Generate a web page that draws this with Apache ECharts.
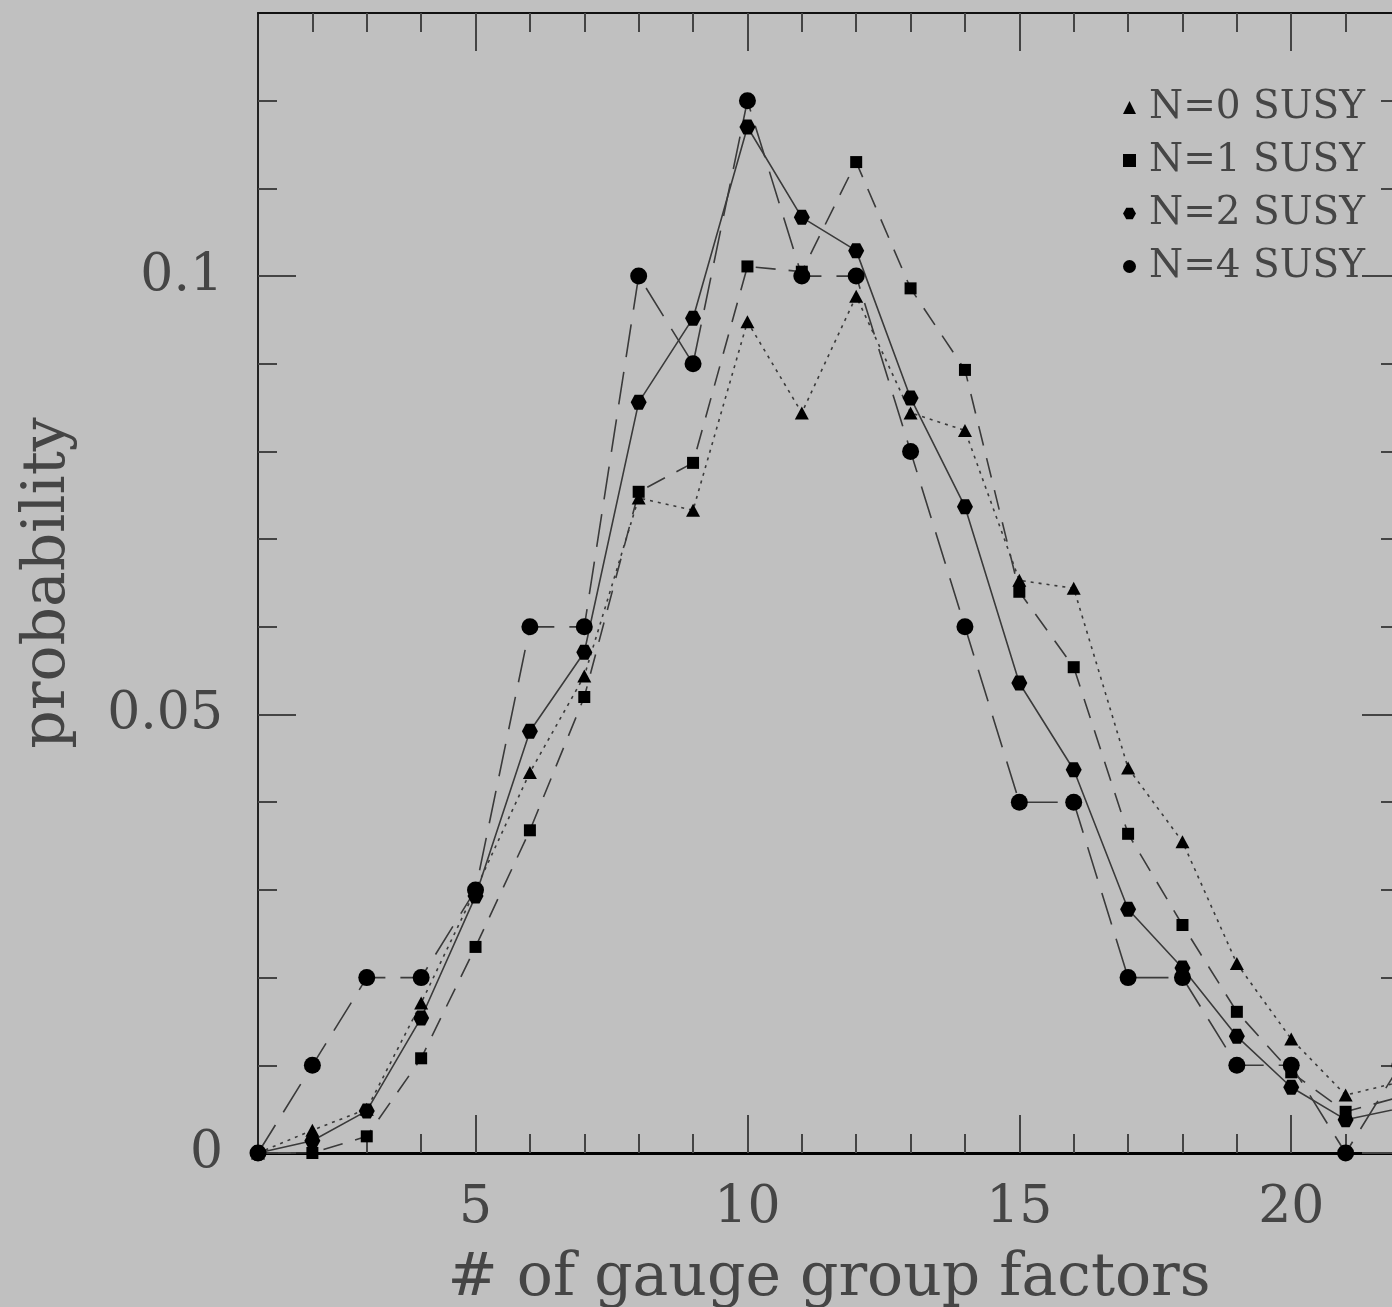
<!DOCTYPE html>
<html>
<head>
<meta charset="utf-8">
<script src="https://cdn.jsdelivr.net/npm/echarts@6/dist/echarts.min.js"></script>
<style>
  html, body { margin: 0; padding: 0; background: #c0c0c0; overflow: hidden; width: 1392px; height: 1307px; }
  #chart { width: 1392px; height: 1307px; display: block; overflow: hidden; }
</style>
</head>
<body>
<div id="chart"></div>
<script>
// ---- data ----
const xValues = [1, 2, 3, 4, 5, 6, 7, 8, 9, 10, 11, 12, 13, 14, 15, 16, 17, 18, 19, 20, 21, 22];
const seriesNames = ['N=0 SUSY', 'N=1 SUSY', 'N=2 SUSY', 'N=4 SUSY'];
const n0 = [0, 0.0026, 0.0050, 0.0171, 0.0300, 0.0434, 0.0544, 0.0747, 0.0733, 0.0948, 0.0844, 0.0977, 0.0844, 0.0824, 0.0653, 0.0644, 0.0439, 0.0355, 0.0216, 0.0130, 0.0066, 0.0081];
const n1 = [0, 0, 0.0019, 0.0108, 0.0235, 0.0368, 0.0520, 0.0754, 0.0787, 0.1011, 0.1005, 0.1130, 0.0986, 0.0893, 0.0640, 0.0554, 0.0364, 0.0260, 0.0161, 0.0092, 0.0047, 0.0064];
const n2 = [0, 0.0014, 0.0048, 0.0154, 0.0293, 0.0481, 0.0571, 0.0856, 0.0952, 0.1170, 0.1067, 0.1029, 0.0861, 0.0737, 0.0536, 0.0437, 0.0278, 0.0211, 0.0133, 0.0075, 0.0038, 0.0051];
const n4 = [0, 0.01, 0.02, 0.02, 0.03, 0.06, 0.06, 0.10, 0.09, 0.12, 0.10, 0.10, 0.08, 0.06, 0.04, 0.04, 0.02, 0.02, 0.01, 0.01, 0, 0.01];
const xMajorTicks = [5, 10, 15, 20];
const xMinorTicks = [2, 3, 4, 6, 7, 8, 9, 11, 12, 13, 14, 16, 17, 18, 19, 21];
const yMajorTicks = [0, 0.05, 0.1];
const yMinorTicks = [0.01, 0.02, 0.03, 0.04, 0.06, 0.07, 0.08, 0.09, 0.11, 0.12];
const xTitle = '# of gauge group factors';
const yTitle = 'probability';

// ---- chart ----
const FONT = 'DejaVu Serif';
const TXT = '#454545';
const hexagon = 'path://M-1,0 L-0.5,-0.866 L0.5,-0.866 L1,0 L0.5,0.866 L-0.5,0.866 Z';
const pairs = arr => xValues.map((x, i) => [x, arr[i]]);

const baseX = { type: 'value', min: 1, max: 22, gridIndex: 0, splitLine: { show: false } };
const baseY = { type: 'value', min: 0, max: 0.13, gridIndex: 0, splitLine: { show: false } };

function xAx(pos, ticks, len, labels, line) {
  return Object.assign({}, baseX, {
    position: pos,
    axisLine: { show: line, onZero: false, lineStyle: { color: pos === 'bottom' ? '#000' : '#111', width: pos === 'bottom' ? 3 : 2 } },
    axisTick: { show: true, inside: true, length: len, customValues: ticks, lineStyle: { color: '#444', width: 2 } },
    axisLabel: labels ? { show: true, customValues: xMajorTicks, margin: 29, fontFamily: FONT, fontSize: 52, color: TXT } : { show: false },
    name: labels ? xTitle : '',
    nameLocation: 'middle',
    nameGap: 96,
    nameTextStyle: { fontFamily: FONT, fontSize: 60, color: TXT }
  });
}
function yAx(pos, ticks, len, labels, line) {
  return Object.assign({}, baseY, {
    position: pos,
    axisLine: { show: line, onZero: false, lineStyle: { color: '#222', width: 2 } },
    axisTick: { show: true, inside: true, length: len, customValues: ticks, lineStyle: { color: '#444', width: 2 } },
    axisLabel: labels ? { show: true, customValues: yMajorTicks, margin: 35, fontFamily: FONT, fontSize: 52, color: TXT, formatter: v => String(v) } : { show: false },
    name: labels ? yTitle : '',
    nameLocation: 'middle',
    nameGap: 180,
    nameRotate: 90,
    nameTextStyle: { fontFamily: FONT, fontSize: 60, color: TXT }
  });
}

const lineColor = '#3a3a3a';
function ser(name, data, symbol, size, type) {
  return {
    name: name,
    type: 'line',
    data: pairs(data),
    xAxisIndex: 0,
    yAxisIndex: 0,
    symbol: symbol,
    symbolSize: size,
    showSymbol: true,
    itemStyle: { color: '#000' },
    lineStyle: { color: lineColor, width: 1.6, type: type },
    emphasis: { disabled: true },
    clip: true
  };
}

const chart = echarts.init(document.getElementById('chart'), null, { renderer: 'canvas', width: 1392, height: 1307 });
chart.setOption({
  backgroundColor: '#c0c0c0',
  animation: false,
  grid: { left: 258, top: 13, width: 1142, height: 1140, show: false, containLabel: false, outerBoundsMode: 'none' },
  xAxis: [
    xAx('bottom', xMajorTicks, 38, true, true),
    xAx('bottom', xMinorTicks, 19, false, false),
    xAx('top', xMajorTicks, 38, false, true),
    xAx('top', xMinorTicks, 19, false, false)
  ],
  yAxis: [
    yAx('left', yMajorTicks, 38, true, true),
    yAx('left', yMinorTicks, 19, false, false),
    yAx('right', yMajorTicks, 38, false, true),
    yAx('right', yMinorTicks, 19, false, false)
  ],
  legend: {
    orient: 'vertical',
    left: 1118,
    top: 83,
    itemWidth: 13,
    itemHeight: 13,
    itemGap: 14,
    textStyle: { fontFamily: FONT, fontSize: 39, color: TXT, lineHeight: 39, padding: [0, 0, 0, 8] },
    data: [
      { name: seriesNames[0], icon: 'triangle' },
      { name: seriesNames[1], icon: 'rect' },
      { name: seriesNames[2], icon: hexagon },
      { name: seriesNames[3], icon: 'circle' }
    ],
    selectedMode: false
  },
  series: [
    ser(seriesNames[0], n0, 'triangle', [14, 13], [3, 5]),
    ser(seriesNames[1], n1, 'rect', 12, [20, 13]),
    ser(seriesNames[2], n2, hexagon, [16, 15], 'solid'),
    ser(seriesNames[3], n4, 'circle', 17, [33, 15])
  ]
});
</script>
</body>
</html>
